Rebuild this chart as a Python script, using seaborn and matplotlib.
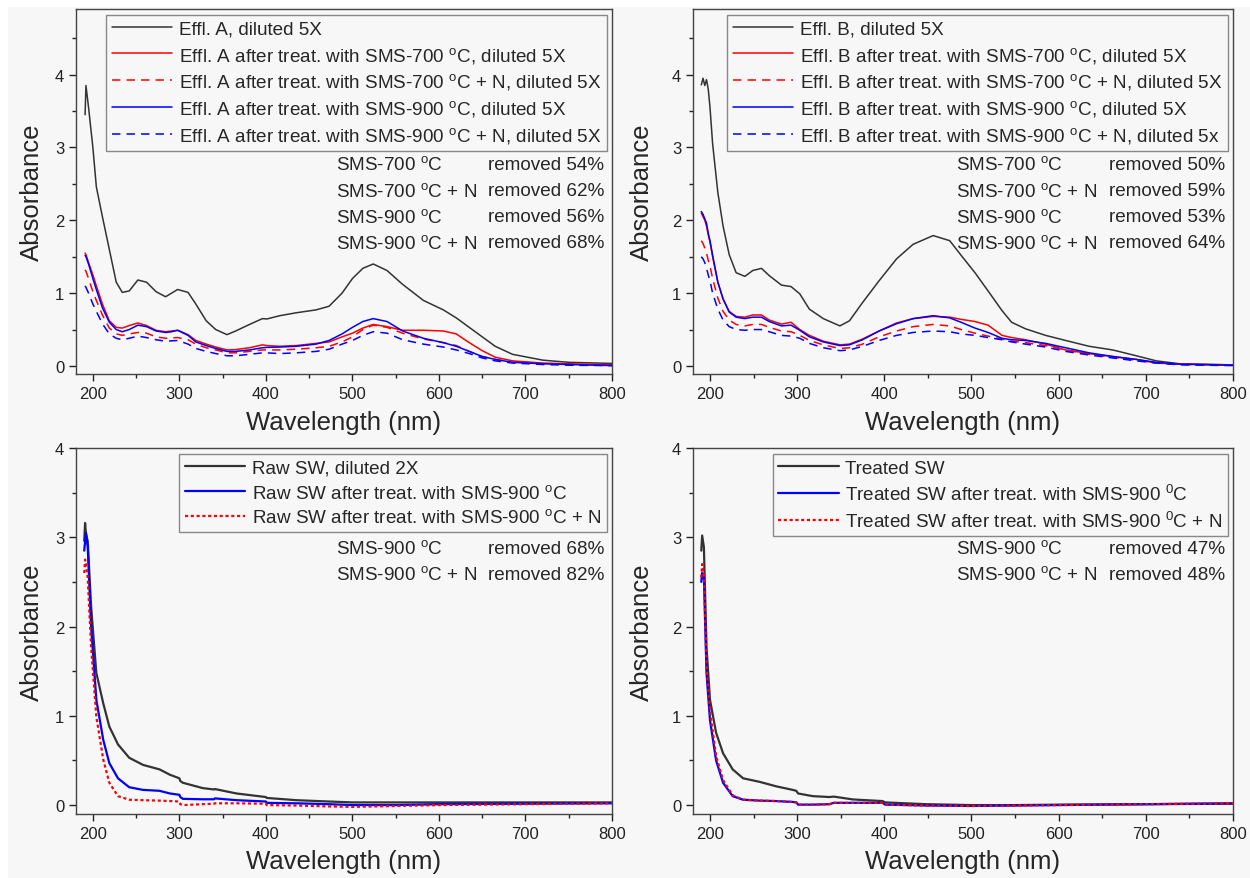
import numpy as np
import pandas as pd
import matplotlib
matplotlib.use("Agg")
import matplotlib.pyplot as plt
from matplotlib.patches import Rectangle
import seaborn as sns

# ---- Effluent A (top left) ----
wl_a = [191, 192, 195, 200, 204, 211, 219, 227, 234, 242, 252, 262, 273, 284, 291, 298,
        310, 319, 331, 342, 355, 365, 381, 396, 401, 416, 435, 458, 473, 488, 500, 512,
        524, 540, 558, 582, 605, 620, 635, 650, 665, 685, 720, 750, 800]
effl_a = [3.45, 3.85, 3.55, 3.0, 2.46, 2.05, 1.6, 1.15, 1.01, 1.03, 1.18, 1.15, 1.02, 0.95, 1.0, 1.05,
          1.01, 0.85, 0.62, 0.5, 0.43, 0.48, 0.57, 0.65, 0.645, 0.69, 0.73, 0.77, 0.82, 1.0, 1.2, 1.34,
          1.4, 1.31, 1.12, 0.9, 0.77, 0.66, 0.53, 0.4, 0.27, 0.16, 0.08, 0.05, 0.035]
a_700 = [1.55, 1.53, 1.42, 1.25, 1.1, 0.85, 0.62, 0.53, 0.52, 0.555, 0.59, 0.555, 0.49, 0.47, 0.48, 0.49,
         0.43, 0.35, 0.3, 0.26, 0.22, 0.225, 0.25, 0.29, 0.28, 0.27, 0.28, 0.31, 0.33, 0.4, 0.45, 0.52,
         0.57, 0.54, 0.49, 0.49, 0.48, 0.44, 0.32, 0.21, 0.12, 0.07, 0.04, 0.03, 0.015]
a_700n = [1.32, 1.3, 1.2, 1.02, 0.9, 0.7, 0.52, 0.44, 0.42, 0.44, 0.46, 0.45, 0.4, 0.38, 0.385, 0.39,
          0.36, 0.3, 0.25, 0.22, 0.18, 0.18, 0.2, 0.22, 0.22, 0.22, 0.23, 0.25, 0.27, 0.33, 0.4, 0.5,
          0.56, 0.53, 0.45, 0.37, 0.32, 0.28, 0.2, 0.13, 0.09, 0.05, 0.03, 0.02, 0.01]
a_900 = [1.52, 1.5, 1.4, 1.2, 1.05, 0.8, 0.6, 0.5, 0.47, 0.5, 0.56, 0.54, 0.48, 0.46, 0.47, 0.49,
         0.42, 0.33, 0.28, 0.24, 0.2, 0.2, 0.22, 0.25, 0.255, 0.26, 0.27, 0.3, 0.35, 0.44, 0.53, 0.61,
         0.65, 0.61, 0.48, 0.38, 0.32, 0.27, 0.2, 0.13, 0.09, 0.05, 0.03, 0.02, 0.005]
a_900n = [1.1, 1.08, 1.0, 0.85, 0.75, 0.58, 0.44, 0.38, 0.36, 0.38, 0.41, 0.39, 0.36, 0.34, 0.345, 0.35,
          0.3, 0.24, 0.2, 0.17, 0.14, 0.14, 0.16, 0.18, 0.18, 0.17, 0.18, 0.2, 0.23, 0.3, 0.35, 0.42,
          0.47, 0.45, 0.36, 0.3, 0.26, 0.22, 0.17, 0.11, 0.07, 0.04, 0.02, 0.01, 0.005]

# ---- Effluent B (top right) ----
wl_b = [190, 192, 194, 196, 198, 200, 203, 209, 215, 222, 230, 240, 249, 259, 268, 282, 293, 303,
        314, 330, 349, 360, 375, 394, 414, 433, 456, 475, 488, 504, 519, 535, 546, 562, 585, 608,
        635, 662, 689, 712, 739, 800]
effl_b = [3.86, 3.95, 3.85, 3.93, 3.8, 3.55, 3.05, 2.38, 1.92, 1.53, 1.28, 1.23, 1.31, 1.34, 1.24, 1.11, 1.09, 0.99,
          0.78, 0.65, 0.55, 0.62, 0.87, 1.17, 1.47, 1.67, 1.79, 1.72, 1.52, 1.28, 1.03, 0.76, 0.6, 0.51, 0.42, 0.35,
          0.27, 0.22, 0.14, 0.07, 0.03, 0.015]
b_700 = [2.1, 2.05, 2.0, 1.92, 1.8, 1.7, 1.5, 1.15, 0.92, 0.75, 0.68, 0.67, 0.7, 0.7, 0.63, 0.575, 0.6, 0.5,
         0.42, 0.34, 0.29, 0.3, 0.37, 0.48, 0.59, 0.65, 0.68, 0.67, 0.64, 0.61, 0.56, 0.42, 0.39, 0.36, 0.3, 0.22,
         0.17, 0.13, 0.09, 0.04, 0.025, 0.015]
b_700n = [1.72, 1.68, 1.62, 1.55, 1.45, 1.37, 1.2, 0.93, 0.75, 0.63, 0.57, 0.55, 0.57, 0.57, 0.53, 0.48, 0.47, 0.42,
          0.35, 0.29, 0.24, 0.25, 0.3, 0.4, 0.48, 0.54, 0.57, 0.55, 0.5, 0.45, 0.41, 0.37, 0.34, 0.32, 0.28, 0.22,
          0.16, 0.12, 0.08, 0.04, 0.02, 0.01]
b_900 = [2.12, 2.08, 2.02, 1.96, 1.82, 1.72, 1.52, 1.15, 0.92, 0.74, 0.67, 0.65, 0.67, 0.67, 0.61, 0.55, 0.56, 0.49,
         0.4, 0.33, 0.28, 0.29, 0.36, 0.48, 0.58, 0.65, 0.69, 0.66, 0.6, 0.52, 0.46, 0.38, 0.36, 0.35, 0.31, 0.25,
         0.18, 0.13, 0.09, 0.05, 0.025, 0.01]
b_900n = [1.5, 1.47, 1.42, 1.34, 1.25, 1.17, 1.0, 0.78, 0.63, 0.54, 0.5, 0.49, 0.5, 0.5, 0.47, 0.42, 0.41, 0.38,
          0.31, 0.25, 0.21, 0.22, 0.27, 0.35, 0.42, 0.46, 0.48, 0.47, 0.44, 0.42, 0.39, 0.36, 0.33, 0.3, 0.26, 0.2,
          0.15, 0.11, 0.07, 0.04, 0.015, 0.005]

# ---- Raw SW (bottom left) ----
wl_raw = [190, 191, 192, 194, 198, 204, 212, 219, 229, 242, 258, 277, 289, 300, 301, 304, 327, 340,
          341, 366, 400, 401, 435, 473, 500, 550, 600, 700, 800]
raw_sw = [2.96, 3.16, 3.04, 2.96, 2.22, 1.48, 1.14, 0.88, 0.68, 0.53, 0.45, 0.4, 0.34, 0.3, 0.27, 0.25, 0.19, 0.175,
          0.18, 0.13, 0.09, 0.08, 0.055, 0.04, 0.03, 0.03, 0.03, 0.03, 0.03]
raw_900 = [2.85, 2.95, 3.05, 2.9, 2.0, 1.18, 0.73, 0.47, 0.3, 0.2, 0.17, 0.16, 0.13, 0.115, 0.09, 0.07, 0.065, 0.065,
           0.075, 0.055, 0.04, 0.025, 0.02, 0.01, 0.0, 0.0, 0.01, 0.015, 0.02]
raw_900n = [2.6, 2.75, 2.7, 2.55, 1.77, 0.99, 0.51, 0.25, 0.1, 0.06, 0.055, 0.05, 0.045, 0.04, 0.01, 0.0, 0.01, 0.015,
            0.02, 0.02, 0.015, 0.0, -0.005, -0.015, -0.02, -0.01, 0.0, 0.01, 0.02]

# ---- Treated SW (bottom right) ----
wl_tr = [190, 191, 193, 196, 200, 207, 215, 226, 238, 257, 276, 295, 299, 301, 318, 337, 342, 364,
         398, 401, 448, 500, 550, 600, 700, 800]
tr_sw = [2.85, 3.02, 2.89, 1.77, 1.18, 0.81, 0.58, 0.4, 0.3, 0.26, 0.21, 0.17, 0.16, 0.13, 0.1, 0.09, 0.095, 0.063,
         0.045, 0.03, 0.01, 0.0, 0.0, 0.005, 0.01, 0.015]
tr_900 = [2.5, 2.6, 2.55, 1.48, 0.95, 0.5, 0.25, 0.1, 0.06, 0.05, 0.045, 0.035, 0.03, 0.005, 0.005, 0.01, 0.025, 0.025,
          0.025, 0.005, -0.005, -0.01, -0.005, 0.0, 0.01, 0.02]
tr_900n = [2.55, 2.7, 2.6, 1.55, 1.05, 0.55, 0.28, 0.11, 0.06, 0.05, 0.045, 0.035, 0.03, 0.005, 0.005, 0.01, 0.025, 0.025,
           0.025, 0.005, -0.005, -0.01, -0.005, 0.0, 0.01, 0.02]

deg = r"$^{\mathrm{o}}$C"
deg0 = r"$^{\mathrm{0}}$C"
labels_a = ["Effl. A, diluted 5X",
            f"Effl. A after treat. with SMS-700 {deg}, diluted 5X",
            f"Effl. A after treat. with SMS-700 {deg} + N, diluted 5X",
            f"Effl. A after treat. with SMS-900 {deg}, diluted 5X",
            f"Effl. A after treat. with SMS-900 {deg} + N, diluted 5X"]
labels_b = ["Effl. B, diluted 5X",
            f"Effl. B after treat. with SMS-700 {deg}, diluted 5X",
            f"Effl. B after treat. with SMS-700 {deg} + N, diluted 5X",
            f"Effl. B after treat. with SMS-900 {deg}, diluted 5X",
            f"Effl. B after treat. with SMS-900 {deg} + N, diluted 5x"]
labels_raw = ["Raw SW, diluted 2X",
              f"Raw SW after treat. with SMS-900 {deg}",
              f"Raw SW after treat. with SMS-900 {deg} + N"]
labels_tr = ["Treated SW",
             f"Treated SW after treat. with SMS-900 {deg0}",
             f"Treated SW after treat. with SMS-900 {deg0} + N"]

notes_a = [(f"SMS-700 {deg}", "removed 54%"), (f"SMS-700 {deg} + N", "removed 62%"),
           (f"SMS-900 {deg}", "removed 56%"), (f"SMS-900 {deg} + N", "removed 68%")]
notes_b = [(f"SMS-700 {deg}", "removed 50%"), (f"SMS-700 {deg} + N", "removed 59%"),
           (f"SMS-900 {deg}", "removed 53%"), (f"SMS-900 {deg} + N", "removed 64%")]
notes_raw = [(f"SMS-900 {deg}", "removed 68%"), (f"SMS-900 {deg} + N", "removed 82%")]
notes_tr = [(f"SMS-900 {deg}", "removed 47%"), (f"SMS-900 {deg} + N", "removed 48%")]

BG = "#f7f7f7"
BLACK = "#333333"
DASH = (0, (5.5, 4))
DOT = (0, (1.4, 1.2))

sns.set_theme(style="ticks")
plt.rcParams["font.family"] = ["Liberation Sans", "DejaVu Sans"]
plt.rcParams["mathtext.fontset"] = "custom"
plt.rcParams["mathtext.rm"] = "Liberation Sans"
plt.rcParams["mathtext.it"] = "Liberation Sans:italic"

fig = plt.figure(figsize=(12.5, 8.79), dpi=100, facecolor="white")
fig.patches.append(Rectangle((8 / 1250, 0), 1, 1 - 8 / 879, transform=fig.transFigure,
                             facecolor=BG, edgecolor="none", zorder=-10))


def panel(rect, wl, series, labels, notes, ymax, ymin, lw, note_x, note_y):
    ax = fig.add_axes(rect)
    ax.set_facecolor(BG)
    for (vals, color, ls), lab in zip(series, labels):
        df = pd.DataFrame({"wl": wl, "abs": vals})
        sns.lineplot(data=df, x="wl", y="abs", ax=ax, color=color, linestyle=ls,
                     linewidth=lw, label=lab, estimator=None, sort=False)
    ax.set_xlim(180.5, 800)
    ax.set_ylim(ymin, ymax)
    ax.set_xticks(np.arange(200, 801, 100))
    ax.set_xticks(np.arange(250, 800, 100), minor=True)
    ax.set_yticks(np.arange(0, 5, 1))
    ax.set_yticks(np.arange(0.5, ymax, 1), minor=True)
    ax.tick_params(which="major", direction="out", length=5, width=1, labelsize=12, colors="#222222")
    ax.tick_params(which="minor", direction="out", length=3, width=1, colors="#222222")
    for s in ax.spines.values():
        s.set_color("#444444")
        s.set_linewidth(1)
    ax.set_xlabel("Wavelength (nm)", fontsize=18.5)
    ax.set_ylabel("Absorbance", fontsize=18.5)
    leg = ax.legend(loc="upper right", bbox_to_anchor=(0.991, 0.984), borderaxespad=0,
                    fontsize=13.6, frameon=True, fancybox=False, framealpha=1,
                    facecolor=BG, edgecolor="#888888", handlelength=3.2, handletextpad=0.35,
                    labelspacing=0.36, borderpad=0.3)
    leg.get_frame().set_linewidth(1)
    for i, (left, right) in enumerate(notes):
        y = note_y - i * 0.0715
        ax.text(note_x, y, left, transform=ax.transAxes, fontsize=13.6, ha="left", va="center")
        ax.text(0.985, y, right, transform=ax.transAxes, fontsize=13.6, ha="right", va="center")
    return ax


ax1 = panel([0.0608, 0.5734, 0.4288, 0.4152], wl_a,
            [(effl_a, BLACK, "-"), (a_700, "red", "-"), (a_700n, "red", DASH),
             (a_900, "blue", "-"), (a_900n, "blue", DASH)],
            labels_a, notes_a, 4.9, -0.11, 1.1, 0.485, 0.574)
ax2 = panel([0.5544, 0.5734, 0.432, 0.4152], wl_b,
            [(effl_b, BLACK, "-"), (b_700, "red", "-"), (b_700n, "red", DASH),
             (b_900, "blue", "-"), (b_900n, "blue", DASH)],
            labels_b, notes_b, 4.9, -0.11, 1.1, 0.487, 0.574)
ax3 = panel([0.0608, 0.0728, 0.4288, 0.4164], wl_raw,
            [(raw_sw, BLACK, "-"), (raw_900, "blue", "-"), (raw_900n, "red", DOT)],
            labels_raw, notes_raw, 4.0, -0.1, 1.6, 0.485, 0.726)
ax4 = panel([0.5544, 0.0728, 0.432, 0.4164], wl_tr,
            [(tr_sw, BLACK, "-"), (tr_900, "blue", "-"), (tr_900n, "red", DOT)],
            labels_tr, notes_tr, 4.0, -0.1, 1.6, 0.487, 0.726)

for ax in (ax1, ax3):
    ax.yaxis.set_label_coords(-0.06, 0.5)
for ax in (ax2, ax4):
    ax.yaxis.set_label_coords(-0.072, 0.5)
for ax in (ax1, ax2):
    ax.xaxis.set_label_coords(0.5, -0.1)
for ax in (ax3, ax4):
    ax.xaxis.set_label_coords(0.5, -0.095)

fig.savefig("out.png", dpi=100, facecolor=fig.get_facecolor())
